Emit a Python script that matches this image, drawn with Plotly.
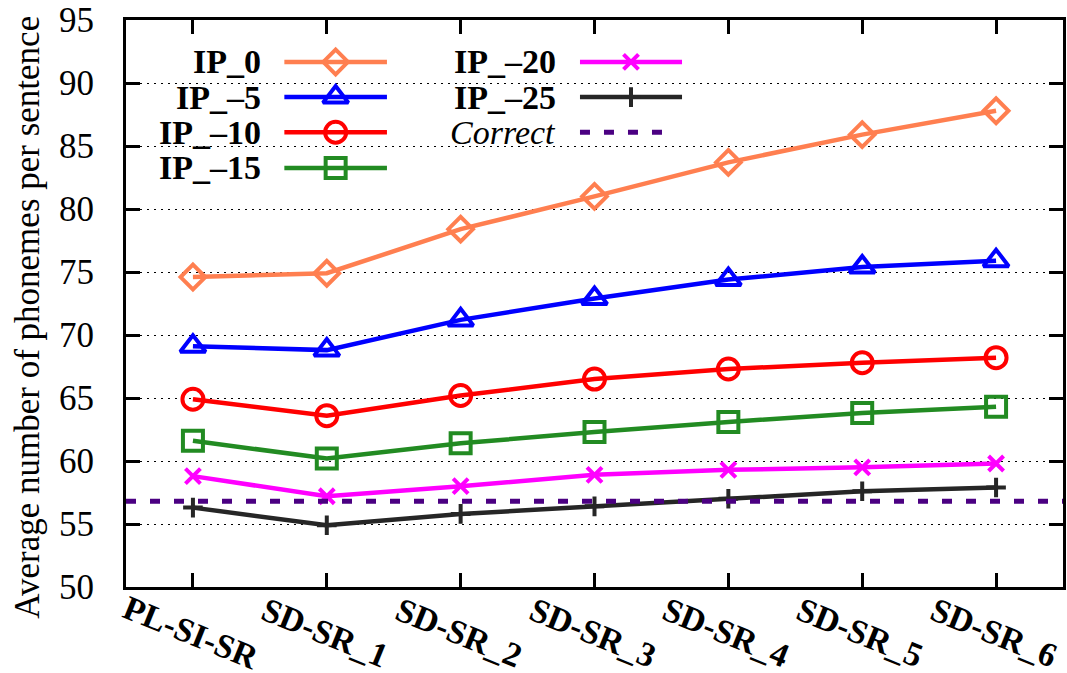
import plotly.graph_objects as go

# ---------------- data ----------------
CATEGORIES = ["PL-SI-SR", "SD-SR_1", "SD-SR_2", "SD-SR_3", "SD-SR_4", "SD-SR_5", "SD-SR_6"]
SERIES_NAMES = ["IP_0", "IP_–5", "IP_–10", "IP_–15", "IP_–20", "IP_–25"]
IP_0 = [74.6, 74.9, 78.4, 81.0, 83.7, 85.9, 87.8]
IP_M5 = [69.1, 68.8, 71.2, 72.9, 74.4, 75.4, 75.9]
IP_M10 = [64.9, 63.6, 65.2, 66.5, 67.3, 67.8, 68.2]
IP_M15 = [61.6, 60.2, 61.4, 62.3, 63.1, 63.8, 64.3]
IP_M20 = [58.8, 57.2, 58.0, 58.9, 59.3, 59.5, 59.8]
IP_M25 = [56.3, 54.9, 55.8, 56.4, 57.0, 57.6, 57.9]
CORRECT = 56.8
CORRECT_NAME = "Correct"
Y_TICKS = [50, 55, 60, 65, 70, 75, 80, 85, 90, 95]
Y_TITLE = "Average number of phonemes per sentence"

# ---------------- styles ----------------
FONT = '"Liberation Serif", "Times New Roman", Tinos, Times, "DejaVu Serif", serif'
STYLES = [
    dict(color="#FF7F50", symbol="diamond-open", size=19),
    dict(color="#0000FF", symbol="triangle-up-open", size=22),
    dict(color="#FF0000", symbol="circle-open", size=21),
    dict(color="#228B22", symbol="square-open", size=20),
    dict(color="#FF00FF", symbol="x-thin-open", size=15),
    dict(color="#262626", symbol="cross-thin-open", size=14),
]
VALUES = [IP_0, IP_M5, IP_M10, IP_M15, IP_M20, IP_M25]
CORRECT_COLOR = "#4B0082"
DASH = "10px,14px"
LW = 4.5
MLW = 4

fig = go.Figure()

for name, vals, st in zip(SERIES_NAMES, VALUES, STYLES):
    fig.add_trace(go.Scatter(
        x=CATEGORIES, y=vals, mode="lines+markers", name=name, showlegend=False,
        line=dict(color=st["color"], width=LW),
        marker=dict(symbol=st["symbol"], size=st["size"], color=st["color"],
                    line=dict(width=MLW, color=st["color"])),
        cliponaxis=False,
    ))

# Correct reference line
fig.add_hline(y=CORRECT, line=dict(color=CORRECT_COLOR, width=5, dash=DASH), layer="above")

# legend background (opaque key box)
fig.add_shape(type="rect", xref="paper", yref="paper", x0=0.003, x1=0.60, y0=0.70, y1=0.995,
              fillcolor="white", line=dict(width=0), layer="between")

# manual gnuplot-style legend (labels right-aligned, sample to the right)
col_label_x = [0.146, 0.461]
col_line = [(0.169, 0.2785), (0.4845, 0.5934)]
row_y = [0.926, 0.864, 0.802, 0.739]
slots = [(0, 0), (0, 1), (0, 2), (0, 3), (1, 0), (1, 1)]
for (c, r), name, st in zip(slots, SERIES_NAMES, STYLES):
    x0, x1 = col_line[c]
    yy = row_y[r]
    fig.add_trace(go.Scatter(
        x=[x0, x1], y=[yy, yy], xaxis="x2", yaxis="y2", mode="lines", showlegend=False,
        line=dict(color=st["color"], width=LW), hoverinfo="skip"))
    fig.add_trace(go.Scatter(
        x=[(x0 + x1) / 2], y=[yy], xaxis="x2", yaxis="y2", mode="markers", showlegend=False,
        marker=dict(symbol=st["symbol"], size=st["size"], color=st["color"],
                    line=dict(width=MLW, color=st["color"])), hoverinfo="skip"))
    fig.add_annotation(x=col_label_x[c], y=yy, xref="paper", yref="paper", text=f"<b>{name}</b>",
                       showarrow=False, xanchor="right", yanchor="middle",
                       font=dict(family=FONT, size=34, color="black"))
# Correct legend entry
fig.add_trace(go.Scatter(
    x=[0.4845, 0.5753], y=[row_y[2], row_y[2]], xaxis="x2", yaxis="y2", mode="lines", showlegend=False,
    line=dict(color=CORRECT_COLOR, width=5, dash=DASH), hoverinfo="skip"))
fig.add_annotation(x=col_label_x[1], y=row_y[2], xref="paper", yref="paper", text=f"<i>{CORRECT_NAME}</i>",
                   showarrow=False, xanchor="right", yanchor="middle",
                   font=dict(family=FONT, size=34, color="black"))

# rotated category labels
for cat in CATEGORIES:
    fig.add_annotation(x=cat, y=0, xref="x", yref="paper", text=f"<b>{cat}</b>", showarrow=False,
                       textangle=22, xanchor="center", yanchor="middle", xshift=-2, yshift=-45,
                       font=dict(family=FONT, size=34, color="black"))

# y-axis title
fig.add_annotation(x=0, y=0.475, xref="paper", yref="paper", text=Y_TITLE, showarrow=False,
                   textangle=-90, xanchor="center", yanchor="middle", xshift=-98,
                   font=dict(family=FONT, size=35, color="black"))

fig.update_layout(
    width=1067, height=673,
    margin=dict(l=126, r=4, t=20, b=86, autoexpand=False),
    paper_bgcolor="white", plot_bgcolor="white",
    font=dict(family=FONT, size=34, color="black"),
    showlegend=False,
    xaxis=dict(
        type="category", range=[-0.5, 6.5], showticklabels=False, automargin=False,
        ticks="inside", ticklen=14, tickwidth=2.5, tickcolor="black",
        showline=True, linecolor="black", linewidth=3, mirror="ticks",
        showgrid=False, zeroline=False,
    ),
    yaxis=dict(
        range=[50, 95], tickvals=Y_TICKS, ticks="inside", ticklen=14, tickwidth=2.5,
        tickcolor="black", showline=True, linecolor="black", linewidth=3, mirror="ticks",
        showgrid=True, gridcolor="black", gridwidth=1, griddash="2px,5px", automargin=False,
        zeroline=False, ticklabelstandoff=22, ticklabeloverflow="allow",
        tickfont=dict(family=FONT, size=35, color="black"),
    ),
    xaxis2=dict(overlaying="x", range=[0, 1], visible=False, automargin=False),
    yaxis2=dict(overlaying="y", range=[0, 1], visible=False, automargin=False),
)

fig.write_html("out.html", config={"displayModeBar": False},
               post_script="document.body.style.margin='0';document.body.style.overflow='hidden';")
